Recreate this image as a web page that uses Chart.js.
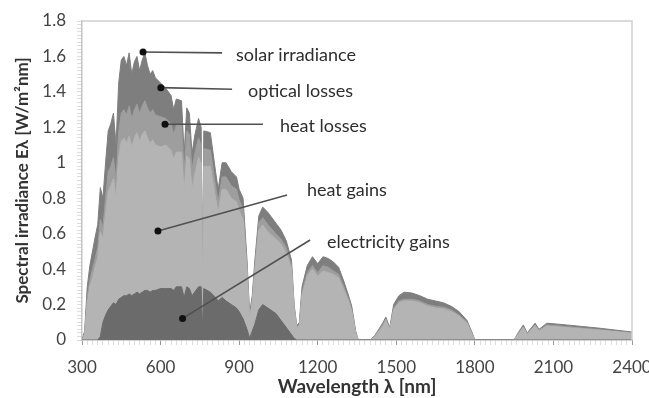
<!DOCTYPE html>
<html>
<head>
<meta charset="utf-8">
<script src="https://cdn.jsdelivr.net/npm/chart.js@4.4.1/dist/chart.umd.min.js"></script>
<style>
  html, body { margin: 0; padding: 0; background: #fff; }
  canvas { display: block; }
</style>
</head>
<body>
<canvas id="grafico" width="649" height="398"></canvas>
<script>
// comprimentos de onda (nm)
const wavelengths = [
  300, 310, 320, 330, 340, 350, 360, 370, 380, 390,
  400, 410, 420, 430, 440, 450, 460, 470, 480, 490,
  500, 510, 520, 530, 540, 550, 560, 570, 580, 600,
  620, 640, 650, 660, 680, 690, 700, 710, 720, 730,
  745, 755, 760, 765, 790, 810, 820, 835, 850, 870,
  890, 900, 915, 930, 940, 950, 960, 975, 990, 1010,
  1040, 1060, 1080, 1100, 1110, 1120, 1130, 1140, 1160, 1180,
  1200, 1220, 1240, 1260, 1280, 1300, 1320, 1330, 1345, 1355,
  1400, 1420, 1450, 1460, 1475, 1490, 1510, 1530, 1560, 1590,
  1620, 1650, 1680, 1710, 1740, 1770, 1790, 1800, 1950, 1965,
  1985, 2000, 2030, 2045, 2075, 2150, 2280, 2400
];

// topo da irradiancia solar
const solarIrradiance = [
  0, 0.05, 0.3, 0.42, 0.5, 0.58, 0.65, 0.86, 0.8, 1.0,
  1.18, 1.22, 1.28, 1.1, 1.45, 1.58, 1.6, 1.55, 1.62, 1.5,
  1.57, 1.6, 1.52, 1.58, 1.62, 1.55, 1.5, 1.52, 1.48, 1.45,
  1.42, 1.38, 1.3, 1.36, 1.35, 1.05, 1.31, 1.28, 1.05, 1.15,
  1.25, 1.2, 0.3, 1.18, 1.17, 0.95, 0.85, 1.0, 1.0, 0.95,
  0.92, 0.85, 0.8, 0.45, 0.15, 0.25, 0.45, 0.7, 0.75, 0.72,
  0.66, 0.62, 0.56, 0.45, 0.2, 0.08, 0.1, 0.3, 0.42, 0.47,
  0.43, 0.47, 0.46, 0.44, 0.41, 0.33, 0.24, 0.19, 0.05, 0,
  0, 0.03, 0.1, 0.13, 0.07, 0.2, 0.25, 0.27, 0.265, 0.25,
  0.23, 0.22, 0.21, 0.19, 0.16, 0.11, 0.04, 0, 0, 0.04,
  0.085, 0.04, 0.095, 0.06, 0.095, 0.085, 0.066, 0.045
];

// abaixo das perdas opticas
const afterOpticalLosses = [
  0, 0.04, 0.24, 0.34, 0.4, 0.46, 0.52, 0.68, 0.64, 0.8,
  0.95, 0.98, 1.03, 0.9, 1.17, 1.28, 1.3, 1.27, 1.32, 1.25,
  1.3, 1.33, 1.28, 1.32, 1.35, 1.31, 1.28, 1.3, 1.27, 1.26,
  1.25, 1.22, 1.16, 1.21, 1.21, 0.95, 1.18, 1.16, 0.96, 1.05,
  1.14, 1.1, 0.28, 1.08, 1.07, 0.87, 0.78, 0.92, 0.92, 0.87,
  0.85, 0.79, 0.74, 0.42, 0.13, 0.23, 0.42, 0.66, 0.69, 0.65,
  0.6, 0.57, 0.52, 0.42, 0.19, 0.07, 0.09, 0.27, 0.38, 0.42,
  0.38, 0.42, 0.41, 0.39, 0.37, 0.3, 0.22, 0.17, 0.04, 0,
  0, 0.03, 0.09, 0.12, 0.06, 0.18, 0.22, 0.23, 0.23, 0.22,
  0.2, 0.19, 0.185, 0.17, 0.14, 0.1, 0.035, 0, 0, 0.035,
  0.075, 0.035, 0.085, 0.055, 0.085, 0.075, 0.058, 0.04
];

// ganhos de calor (topo)
const heatGains = [
  0, 0.03, 0.21, 0.3, 0.35, 0.41, 0.46, 0.61, 0.57, 0.71,
  0.84, 0.87, 0.91, 0.8, 1.03, 1.12, 1.14, 1.11, 1.15, 1.09,
  1.14, 1.17, 1.12, 1.16, 1.18, 1.14, 1.11, 1.13, 1.1, 1.09,
  1.1, 1.07, 1.02, 1.06, 1.06, 0.84, 1.04, 1.02, 0.85, 0.93,
  1.03, 1.0, 0.25, 0.98, 0.98, 0.8, 0.72, 0.85, 0.85, 0.8,
  0.78, 0.73, 0.68, 0.39, 0.12, 0.21, 0.39, 0.62, 0.65, 0.61,
  0.57, 0.54, 0.49, 0.4, 0.18, 0.07, 0.08, 0.25, 0.36, 0.4,
  0.36, 0.39, 0.38, 0.37, 0.35, 0.28, 0.21, 0.16, 0.04, 0,
  0, 0.02, 0.08, 0.11, 0.06, 0.17, 0.21, 0.22, 0.22, 0.21,
  0.19, 0.18, 0.175, 0.16, 0.135, 0.095, 0.03, 0, 0, 0.03,
  0.07, 0.033, 0.08, 0.05, 0.08, 0.07, 0.055, 0.038
];

// ganhos de eletricidade
const electricityGains = [
  0, 0, 0, 0, 0, 0, 0, 0.02, 0.1, 0.14,
  0.17, 0.19, 0.21, 0.2, 0.23, 0.24, 0.25, 0.25, 0.26, 0.25,
  0.26, 0.27, 0.26, 0.27, 0.28, 0.28, 0.27, 0.28, 0.28, 0.29,
  0.29, 0.29, 0.28, 0.3, 0.3, 0.24, 0.3, 0.29, 0.25, 0.27,
  0.3, 0.3, 0.06, 0.29, 0.27, 0.24, 0.22, 0.24, 0.22, 0.2,
  0.18, 0.16, 0.12, 0.06, 0.01, 0.05, 0.09, 0.17, 0.2, 0.18,
  0.15, 0.11, 0.07, 0.03, 0.01, 0, 0, 0, 0, 0,
  0, 0, 0, 0, 0, 0, 0, 0, 0, 0,
  0, 0, 0, 0, 0, 0, 0, 0, 0, 0,
  0, 0, 0, 0, 0, 0, 0, 0, 0, 0,
  0, 0, 0, 0, 0, 0, 0, 0
];

// rotulos das anotacoes
const labelTexts = ['solar irradiance', 'optical losses', 'heat losses', 'heat gains', 'electricity gains'];
const dotX = [533, 601, 617, 590, 684];
const dotY = [1.625, 1.424, 1.217, 0.615, 0.122];
const lineEndX = [835, 873, 991, 1083, 1171];
const lineEndY = [1.62, 1.415, 1.217, 0.818, 0.564];
const textX = [888, 934, 1056, 1159, 1235];
const textY = [1.608, 1.405, 1.208, 0.847, 0.553];

const fontFamily = 'Lato, "Open Sans", sans-serif';

function serie(valores) {
  return wavelengths.map((w, i) => ({ x: w, y: valores[i] }));
}

function area(label, valores, cor) {
  return {
    label: label,
    data: serie(valores),
    backgroundColor: cor,
    borderColor: cor,
    borderWidth: 1,
    fill: 'origin',
    pointRadius: 0,
    tension: 0
  };
}

// moldura superior e direita
const moldura = {
  id: 'moldura',
  afterDatasetsDraw(chart) {
    const a = chart.chartArea;
    const ctx = chart.ctx;
    ctx.save();
    ctx.strokeStyle = '#cfcfcf';
    ctx.lineWidth = 1.5;
    ctx.beginPath();
    ctx.moveTo(a.left, a.top);
    ctx.lineTo(a.right, a.top);
    ctx.lineTo(a.right, a.bottom);
    ctx.stroke();
    ctx.restore();
  }
};

const anotacoes = {
  id: 'anotacoes',
  afterDatasetsDraw(chart) {
    const ctx = chart.ctx;
    const sx = chart.scales.x;
    const sy = chart.scales.y;
    ctx.save();
    labelTexts.forEach((txt, i) => {
      const x0 = sx.getPixelForValue(dotX[i]);
      const y0 = sy.getPixelForValue(dotY[i]);
      const x1 = sx.getPixelForValue(lineEndX[i]);
      const y1 = sy.getPixelForValue(lineEndY[i]);
      ctx.strokeStyle = '#505050';
      ctx.lineWidth = 1.6;
      ctx.beginPath();
      ctx.moveTo(x0, y0);
      ctx.lineTo(x1, y1);
      ctx.stroke();
      ctx.fillStyle = '#111';
      ctx.beginPath();
      ctx.arc(x0, y0, 3.5, 0, Math.PI * 2);
      ctx.fill();
      ctx.fillStyle = '#2e2e2e';
      ctx.font = '18px ' + fontFamily;
      ctx.textBaseline = 'middle';
      ctx.textAlign = 'left';
      ctx.fillText(txt, sx.getPixelForValue(textX[i]), sy.getPixelForValue(textY[i]));
    });
    ctx.restore();
  }
};

new Chart(document.getElementById('grafico'), {
  type: 'line',
  data: {
    datasets: [
      area('electricity gains', electricityGains, '#6b6b6b'),
      area('heat gains', heatGains, '#b4b4b4'),
      area('heat losses', afterOpticalLosses, '#9e9e9e'),
      area('solar irradiance', solarIrradiance, '#7e7e7e')
    ]
  },
  options: {
    responsive: false,
    animation: false,
    layout: { padding: { top: 21, right: 17, left: 0, bottom: 0 } },
    plugins: {
      legend: { display: false },
      tooltip: { enabled: false }
    },
    scales: {
      x: {
        type: 'linear',
        min: 300,
        max: 2400,
        afterFit: (s) => { s.height = 58; s.paddingLeft = 0; s.paddingRight = 0; },
        border: { color: '#a8a8a8', width: 1.5 },
        grid: {
          drawOnChartArea: false,
          tickLength: 5,
          tickColor: (c) => (c.tick && c.tick.value % 300 === 0) ? '#999' : '#ddd'
        },
        ticks: {
          stepSize: 20,
          autoSkip: false,
          maxRotation: 0,
          minRotation: 0,
          padding: 12,
          color: '#444',
          font: { family: fontFamily, size: 17 },
          callback: (v) => (v % 300 === 0 ? String(v) : '')
        },
        title: {
          display: true,
          text: 'Wavelength λ [nm]',
          color: '#333',
          font: { family: fontFamily, size: 19, weight: 'bold' },
          padding: { top: 0, bottom: 0 }
        }
      },
      y: {
        min: 0,
        max: 1.8,
        afterFit: (s) => { s.width = 82; s.paddingTop = 0; s.paddingBottom = 0; },
        border: { color: '#c4c4c4', width: 1.5 },
        grid: {
          drawOnChartArea: false,
          tickLength: 5,
          tickColor: '#dcdcdc'
        },
        ticks: {
          stepSize: 0.02,
          autoSkip: false,
          padding: 11,
          color: '#444',
          font: { family: fontFamily, size: 17 },
          callback: (v) => {
            const k = Math.round(v * 5);
            return Math.abs(v * 5 - k) < 1e-6 ? String(Number((k / 5).toFixed(1))) : '';
          }
        },
        title: {
          display: true,
          text: 'Spectral irradiance Eλ [W/m²nm]',
          color: '#333',
          font: { family: fontFamily, size: 17, weight: 'bold' },
          padding: { top: 12, bottom: 0 }
        }
      }
    }
  },
  plugins: [moldura, anotacoes]
});
</script>
</body>
</html>
